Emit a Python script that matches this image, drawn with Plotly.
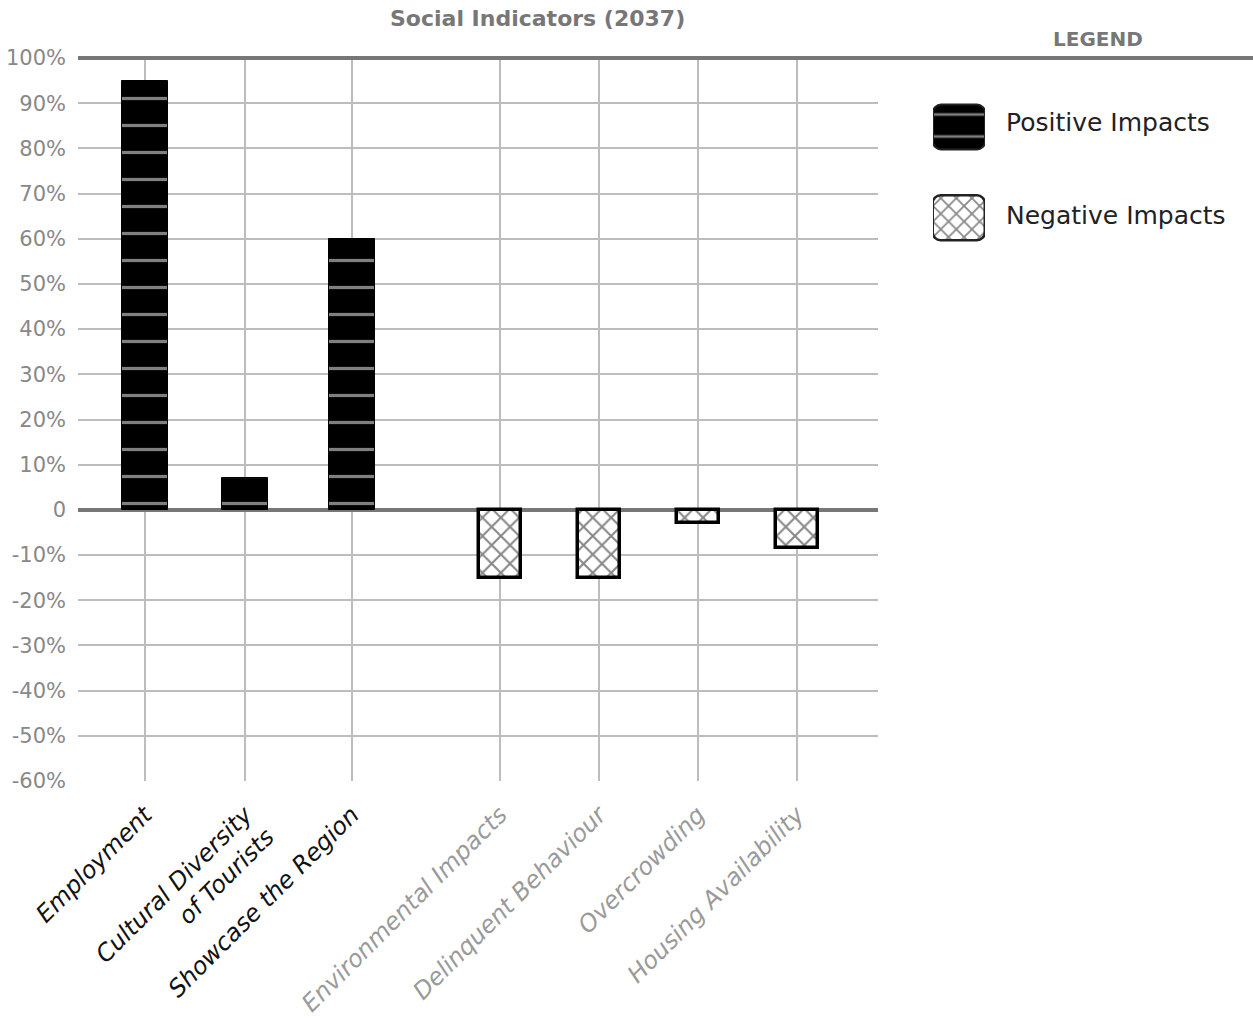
import plotly.graph_objects as go

# ---- data ----
categories = ["Employment", "Cultural Diversity<br>of Tourists", "Showcase the Region",
              "Environmental Impacts", "Delinquent Behaviour", "Overcrowding", "Housing Availability"]
positive_values = [95, 7, 60]
negative_values = [-15, -15, -3, -8.5]
y_tick_values = [100, 90, 80, 70, 60, 50, 40, 30, 20, 10, 0, -10, -20, -30, -40, -50, -60]
y_tick_labels = ["100%", "90%", "80%", "70%", "60%", "50%", "40%", "30%", "20%", "10%", "0",
                 "-10%", "-20%", "-30%", "-40%", "-50%", "-60%"]
legend_labels = ["Positive Impacts", "Negative Impacts"]

# ---- layout constants ----
x_pos = [0.67, 1.67, 2.74, 4.22, 5.21, 6.20, 7.19]
W, H = 1253, 1021
ML, MR, MT, MB = 78, 10, 58, 240
PW = W - ML - MR
PH = H - MT - MB
FONT = "DejaVu Sans"

def px_x(px):
    return (px - ML) / PW

def px_y(py):
    return (H - MB - py) / PH

label_colors = ["#111111"] * 3 + ["#9a9a9a"] * 4
tick_text = [f'<span style="color:{c}"><i>{t}</i></span>' for t, c in zip(categories, label_colors)]

fig = go.Figure()

fig.add_trace(go.Bar(
    x=x_pos[:3], y=positive_values, width=0.46,
    marker=dict(color="black", line=dict(color="black", width=1),
                pattern=dict(shape="-", fgcolor="white", bgcolor="black", size=27, solidity=0.12)),
    showlegend=False, hoverinfo="skip"))

fig.add_trace(go.Bar(
    x=x_pos[3:], y=negative_values, width=0.42,
    marker=dict(color="white", line=dict(color="black", width=3.5),
                pattern=dict(shape="x", fgcolor="#111111", bgcolor="white", size=13, solidity=0.3)),
    showlegend=False, hoverinfo="skip"))

# legend swatches on a secondary axis
fig.add_trace(go.Bar(
    x=[0.5], y=[2], orientation="h", width=0.505, xaxis="x2", yaxis="y2",
    marker=dict(color="black", cornerradius=8, line=dict(color="#222", width=2),
                pattern=dict(shape="-", fgcolor="white", bgcolor="black", size=22, solidity=0.12)),
    showlegend=False, hoverinfo="skip", base=[0]))
fig.add_trace(go.Bar(
    x=[0.5], y=[1], orientation="h", width=0.505, xaxis="x2", yaxis="y2",
    marker=dict(color="white", cornerradius=8, line=dict(color="#222", width=2.5),
                pattern=dict(shape="x", fgcolor="#111111", bgcolor="white", size=11, solidity=0.3)),
    showlegend=False, hoverinfo="skip", base=[0]))

main_frac = 800 / PW

fig.update_layout(
    width=W, height=H,
    margin=dict(l=ML, r=MR, t=MT, b=MB),
    plot_bgcolor="white", paper_bgcolor="white",
    font=dict(family=FONT, color="#888888"),
    bargap=0,
    xaxis=dict(domain=[0, main_frac], range=[0, 8], tickmode="array", tickvals=x_pos,
               ticktext=tick_text, tickangle=-45, showgrid=True, gridcolor="#bdbdbd",
               gridwidth=2, zeroline=False, showline=False, ticks="", automargin=False,
               tickfont=dict(size=24, family=FONT), ticklabelstandoff=14),
    yaxis=dict(range=[-60, 100], tickmode="array", tickvals=y_tick_values, ticktext=y_tick_labels,
               showgrid=True, gridcolor="#bdbdbd", gridwidth=2, zeroline=True, automargin=False,
               zerolinecolor="#777777", zerolinewidth=4, showline=False, ticks="",
               tickfont=dict(size=21, color="#888888", family=FONT), ticklabelstandoff=11),
    xaxis2=dict(domain=[px_x(933), px_x(985)], range=[0, 0.5], visible=False, anchor="y2"),
    yaxis2=dict(domain=[px_y(263.5), px_y(81.5)], range=[0.5, 2.5], visible=False, anchor="x2"),
)

fig.add_shape(type="line", xref="paper", yref="paper", x0=0, x1=px_x(1253), y0=1, y1=1,
              line=dict(color="#777777", width=4))

fig.add_annotation(text="<b>Social Indicators (2037)</b>", xref="paper", yref="paper",
                   x=px_x(537), y=px_y(19), xanchor="center", yanchor="middle", showarrow=False,
                   font=dict(size=22, color="#777777", family=FONT))
fig.add_annotation(text="<b>LEGEND</b>", xref="paper", yref="paper",
                   x=px_x(1098), y=px_y(39), xanchor="center", yanchor="middle", showarrow=False,
                   font=dict(size=20, color="#777777", family=FONT))
for lbl, py in zip(legend_labels, [122, 215]):
    fig.add_annotation(text=lbl, xref="paper", yref="paper", x=px_x(1004), y=px_y(py),
                       xanchor="left", yanchor="middle", showarrow=False,
                       font=dict(size=25, color="#222222", family=FONT))

fig.write_html("out.html", config={"displayModeBar": False},
               post_script="document.body.style.margin='0';document.body.style.overflow='hidden';")
